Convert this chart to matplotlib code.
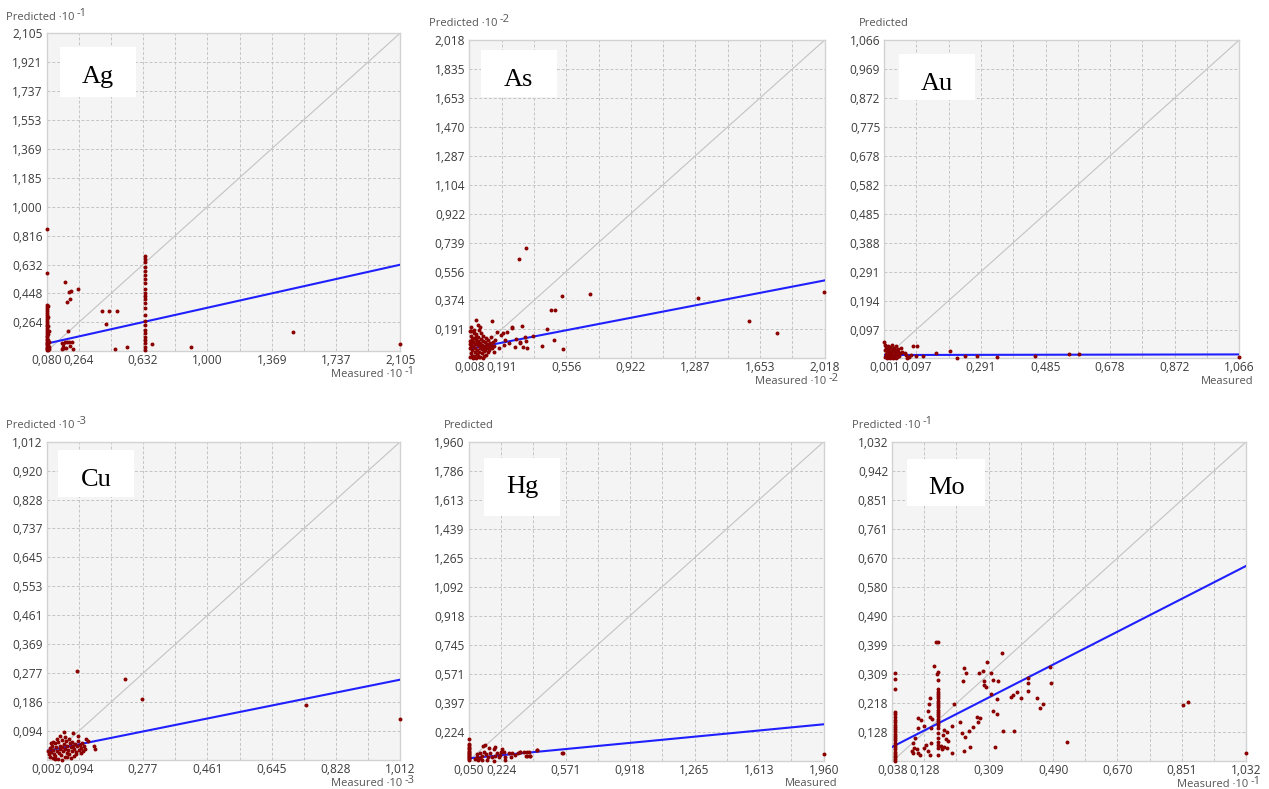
import matplotlib
matplotlib.use("Agg")
import matplotlib.pyplot as plt
from matplotlib.patches import Rectangle

W, H = 1269, 789
plt.rcParams['font.family'] = ['Open Sans', 'DejaVu Sans']

# ---------------------------------------------------------------- data
# axis tick values (first = axis minimum, last = axis maximum)
ag_ticks = [0.080, 0.264, 0.448, 0.632, 0.816, 1.000, 1.185, 1.369, 1.553, 1.737, 1.921, 2.105]
as_ticks = [0.008, 0.191, 0.374, 0.556, 0.739, 0.922, 1.104, 1.287, 1.470, 1.653, 1.835, 2.018]
au_ticks = [0.001, 0.097, 0.194, 0.291, 0.388, 0.485, 0.582, 0.678, 0.775, 0.872, 0.969, 1.066]
cu_ticks = [0.002, 0.094, 0.186, 0.277, 0.369, 0.461, 0.553, 0.645, 0.737, 0.828, 0.920, 1.012]
hg_ticks = [0.050, 0.224, 0.397, 0.571, 0.745, 0.918, 1.092, 1.265, 1.439, 1.613, 1.786, 1.960]
mo_ticks = [0.038, 0.128, 0.218, 0.309, 0.399, 0.490, 0.580, 0.670, 0.761, 0.851, 0.942, 1.032]

# scale exponents of the axis units (None = no multiplier)
ag_exp, as_exp, au_exp, cu_exp, hg_exp, mo_exp = -1, -2, None, -3, None, -1

# regression line: predicted value at the axis minimum and maximum
ag_fit = [0.129, 0.631]
as_fit = [0.067, 0.500]
au_fit = [0.012, 0.014]
cu_fit = [0.031, 0.257]
hg_fit = [0.064, 0.268]
mo_fit = [0.083, 0.646]

# (measured, predicted) samples
ag_pairs = [
    (0.082, 0.856), (0.082, 0.578), (0.082, 0.374), (0.082, 0.362), (0.082, 0.350), (0.082, 0.338),
    (0.082, 0.325), (0.082, 0.312), (0.082, 0.300), (0.082, 0.288), (0.082, 0.275), (0.082, 0.262),
    (0.082, 0.250), (0.082, 0.238), (0.082, 0.226), (0.082, 0.214), (0.082, 0.202), (0.082, 0.190),
    (0.082, 0.180), (0.082, 0.170), (0.082, 0.160), (0.082, 0.150), (0.082, 0.142), (0.082, 0.134),
    (0.082, 0.126), (0.082, 0.118), (0.082, 0.110), (0.082, 0.102), (0.082, 0.095), (0.082, 0.088),
    (0.090, 0.368), (0.090, 0.300), (0.090, 0.240), (0.090, 0.190), (0.090, 0.150), (0.090, 0.120),
    (0.090, 0.100), (0.090, 0.090), (0.096, 0.210), (0.096, 0.140), (0.096, 0.110), (0.096, 0.095),
    (0.166, 0.131), (0.175, 0.126), (0.185, 0.137), (0.195, 0.141), (0.209, 0.139), (0.223, 0.139),
    (0.172, 0.109), (0.179, 0.099), (0.191, 0.103), (0.213, 0.114), (0.232, 0.093), (0.168, 0.093),
    (0.185, 0.521), (0.257, 0.474), (0.208, 0.459), (0.219, 0.464), (0.213, 0.413), (0.198, 0.392),
    (0.204, 0.209), (0.397, 0.334), (0.439, 0.338), (0.483, 0.334), (0.418, 0.256), (0.471, 0.095),
    (0.540, 0.105), (0.685, 0.126), (0.908, 0.105), (1.492, 0.205), (2.105, 0.128),
    (0.643, 0.686), (0.643, 0.669), (0.643, 0.648), (0.643, 0.618), (0.643, 0.593), (0.643, 0.563),
    (0.643, 0.538), (0.643, 0.513), (0.643, 0.478), (0.643, 0.449), (0.643, 0.432), (0.643, 0.411),
    (0.643, 0.389), (0.643, 0.354), (0.643, 0.309), (0.643, 0.275), (0.643, 0.247), (0.643, 0.216),
    (0.643, 0.195), (0.643, 0.173), (0.643, 0.152), (0.643, 0.131), (0.643, 0.109), (0.643, 0.088),
]

as_pairs = [
    (0.327, 0.706), (0.291, 0.633), (0.531, 0.403), (0.689, 0.414), (1.300, 0.387), (2.016, 0.425),
    (1.588, 0.244), (1.748, 0.168), (0.470, 0.313), (0.491, 0.313), (0.447, 0.195), (0.489, 0.124),
    (0.540, 0.067), (0.417, 0.088), (0.370, 0.149), (0.306, 0.212), (0.249, 0.204), (0.221, 0.172),
    (0.197, 0.168), (0.330, 0.117), (0.321, 0.141), (0.270, 0.128), (0.295, 0.113), (0.334, 0.071),
    (0.310, 0.079), (0.265, 0.081), (0.296, 0.103), (0.249, 0.201), (0.136, 0.242), (0.046, 0.250),
    (0.057, 0.218), (0.033, 0.187), (0.070, 0.204), (0.165, 0.176), (0.189, 0.155), (0.212, 0.124),
    (0.203, 0.092), (0.231, 0.103), (0.174, 0.071), (0.146, 0.050), (0.155, 0.124), (0.132, 0.144),
    (0.010, 0.015), (0.015, 0.040), (0.012, 0.070), (0.018, 0.095), (0.014, 0.120), (0.020, 0.150),
    (0.022, 0.025), (0.025, 0.060), (0.028, 0.085), (0.030, 0.110), (0.032, 0.135), (0.035, 0.020),
    (0.038, 0.045), (0.040, 0.075), (0.042, 0.100), (0.045, 0.125), (0.048, 0.160), (0.050, 0.035),
    (0.052, 0.060), (0.055, 0.090), (0.058, 0.115), (0.060, 0.140), (0.062, 0.015), (0.065, 0.050),
    (0.068, 0.075), (0.070, 0.105), (0.072, 0.130), (0.075, 0.170), (0.078, 0.040), (0.080, 0.065),
    (0.082, 0.095), (0.085, 0.120), (0.088, 0.150), (0.090, 0.025), (0.092, 0.055), (0.095, 0.085),
    (0.098, 0.110), (0.100, 0.135), (0.104, 0.070), (0.108, 0.100), (0.112, 0.045), (0.115, 0.125),
    (0.118, 0.080), (0.122, 0.060), (0.125, 0.105), (0.030, 0.010), (0.045, 0.008), (0.058, 0.025),
    (0.020, 0.180), (0.036, 0.165), (0.062, 0.185), (0.070, 0.015), (0.085, 0.010), (0.016, 0.205),
    (0.105, 0.030), (0.128, 0.090), (0.135, 0.070), (0.140, 0.110), (0.148, 0.085), (0.010, 0.180),
    (0.012, 0.100), (0.026, 0.130), (0.044, 0.145), (0.054, 0.110), (0.066, 0.095), (0.076, 0.085),
    (0.086, 0.070), (0.096, 0.060), (0.110, 0.080),
]

au_pairs = [
    (0.003, 0.005), (0.005, 0.015), (0.004, 0.028), (0.006, 0.038), (0.008, 0.010), (0.010, 0.022),
    (0.012, 0.033), (0.014, 0.004), (0.015, 0.016), (0.017, 0.027), (0.019, 0.040), (0.021, 0.008),
    (0.022, 0.020), (0.024, 0.031), (0.026, 0.012), (0.028, 0.024), (0.030, 0.036), (0.032, 0.006),
    (0.033, 0.018), (0.035, 0.028), (0.037, 0.042), (0.039, 0.014), (0.041, 0.022), (0.043, 0.032),
    (0.045, 0.009), (0.047, 0.019), (0.002, 0.045), (0.009, 0.002), (0.018, 0.001), (0.027, 0.003),
    (0.036, 0.002), (0.011, 0.043), (0.025, 0.045), (0.040, 0.005),
    (0.001, 0.055), (0.050, 0.035), (0.055, 0.021), (0.063, 0.018), (0.066, 0.012), (0.081, 0.012),
    (0.087, 0.041), (0.099, 0.041), (0.096, 0.010), (0.116, 0.010), (0.155, 0.020), (0.197, 0.024),
    (0.218, 0.001), (0.243, 0.010), (0.280, 0.010), (0.340, 0.004), (0.453, 0.009), (0.555, 0.016),
    (0.585, 0.014), (1.066, 0.006), (0.070, 0.003), (0.075, 0.005),
]

cu_pairs = [
    (0.005, 0.030), (0.008, 0.020), (0.010, 0.040), (0.012, 0.012), (0.015, 0.028), (0.017, 0.048),
    (0.019, 0.008), (0.021, 0.035), (0.023, 0.022), (0.025, 0.055), (0.027, 0.015), (0.029, 0.042),
    (0.031, 0.030), (0.033, 0.060), (0.035, 0.005), (0.037, 0.025), (0.039, 0.048), (0.041, 0.036),
    (0.043, 0.018), (0.045, 0.065), (0.047, 0.042), (0.049, 0.030), (0.051, 0.052), (0.053, 0.010),
    (0.055, 0.038), (0.057, 0.062), (0.059, 0.025), (0.061, 0.047), (0.063, 0.035), (0.065, 0.070),
    (0.067, 0.020), (0.069, 0.055), (0.071, 0.042), (0.073, 0.030), (0.075, 0.060), (0.077, 0.048),
    (0.079, 0.015), (0.081, 0.038), (0.083, 0.052), (0.085, 0.028), (0.088, 0.045), (0.090, 0.062),
    (0.093, 0.035), (0.096, 0.050), (0.099, 0.040), (0.102, 0.055), (0.105, 0.030), (0.108, 0.046),
    (0.112, 0.038), (0.020, 0.060), (0.030, 0.070), (0.040, 0.078), (0.055, 0.075), (0.013, 0.055),
    (0.026, 0.005), (0.045, 0.003), (0.060, 0.012), (0.070, 0.008), (0.087, 0.020), (0.100, 0.025),
    (0.050, 0.090), (0.076, 0.087), (0.091, 0.078), (0.115, 0.068), (0.119, 0.063), (0.136, 0.046),
    (0.141, 0.037), (0.088, 0.284), (0.227, 0.260), (0.275, 0.196), (0.743, 0.176), (1.012, 0.131),
]

hg_pairs = [
    (0.052, 0.180), (0.052, 0.150), (0.052, 0.142), (0.052, 0.134), (0.052, 0.126), (0.052, 0.118),
    (0.052, 0.110), (0.052, 0.102), (0.052, 0.095), (0.052, 0.088), (0.052, 0.082), (0.052, 0.076),
    (0.052, 0.070), (0.052, 0.064), (0.052, 0.058), (0.052, 0.053),
    (0.125, 0.140), (0.139, 0.144), (0.158, 0.124), (0.184, 0.120), (0.193, 0.134), (0.229, 0.118),
    (0.238, 0.100), (0.247, 0.074), (0.283, 0.094), (0.328, 0.100), (0.346, 0.104), (0.373, 0.104),
    (0.364, 0.078), (0.381, 0.078), (0.417, 0.114), (0.552, 0.094),
    (0.112, 0.094), (0.122, 0.078), (0.131, 0.104), (0.143, 0.088), (0.154, 0.074), (0.166, 0.094),
    (0.175, 0.070), (0.190, 0.078), (0.202, 0.094), (0.211, 0.070), (0.220, 0.084), (0.225, 0.104),
    (0.247, 0.054), (0.265, 0.094), (0.279, 0.074), (0.301, 0.084), (0.315, 0.094), (0.122, 0.054),
    (0.148, 0.054), (0.184, 0.050), (0.085, 0.060), (0.095, 0.075), (0.100, 0.055), (0.110, 0.065),
    (0.092, 0.090), (1.960, 0.088), (0.559, 0.098), (0.419, 0.114), (0.362, 0.104), (0.380, 0.080),
    (0.358, 0.080), (0.326, 0.104),
]

mo_pairs = [
    (0.045, 0.314), (0.045, 0.293), (0.045, 0.263), (0.045, 0.192), (0.045, 0.184), (0.045, 0.176),
    (0.045, 0.168), (0.045, 0.160), (0.045, 0.152), (0.045, 0.145), (0.045, 0.138), (0.045, 0.131),
    (0.045, 0.124), (0.045, 0.117), (0.045, 0.110), (0.045, 0.103), (0.045, 0.096), (0.045, 0.089),
    (0.045, 0.082), (0.045, 0.075), (0.045, 0.068), (0.045, 0.062), (0.045, 0.056), (0.045, 0.050),
    (0.045, 0.044), (0.045, 0.040),
    (0.161, 0.410), (0.167, 0.410), (0.165, 0.317), (0.163, 0.310), (0.165, 0.291), (0.165, 0.262),
    (0.165, 0.255), (0.165, 0.248), (0.165, 0.241), (0.165, 0.234), (0.165, 0.227), (0.165, 0.220),
    (0.165, 0.213), (0.165, 0.206), (0.165, 0.199), (0.165, 0.192), (0.165, 0.185), (0.165, 0.178),
    (0.165, 0.171), (0.165, 0.164), (0.165, 0.157), (0.165, 0.150), (0.165, 0.141), (0.165, 0.125),
    (0.165, 0.110), (0.165, 0.099), (0.165, 0.089), (0.165, 0.078), (0.165, 0.058),
    (0.156, 0.335), (0.111, 0.174), (0.119, 0.166), (0.144, 0.234), (0.142, 0.215), (0.137, 0.195),
    (0.144, 0.177), (0.149, 0.170), (0.128, 0.148), (0.111, 0.142), (0.147, 0.141), (0.102, 0.110),
    (0.095, 0.094), (0.100, 0.078), (0.107, 0.075), (0.111, 0.065), (0.116, 0.058), (0.128, 0.078),
    (0.132, 0.089), (0.139, 0.071), (0.147, 0.096), (0.092, 0.070), (0.097, 0.065), (0.144, 0.058),
    (0.184, 0.135), (0.191, 0.130), (0.181, 0.120), (0.188, 0.106), (0.194, 0.102), (0.175, 0.086),
    (0.184, 0.082), (0.191, 0.078), (0.177, 0.075), (0.212, 0.216), (0.228, 0.161), (0.205, 0.148),
    (0.206, 0.065), (0.235, 0.127), (0.242, 0.113), (0.240, 0.070), (0.256, 0.083), (0.253, 0.133),
    (0.265, 0.144), (0.278, 0.161), (0.275, 0.177), (0.284, 0.174), (0.239, 0.327), (0.244, 0.312),
    (0.236, 0.288), (0.281, 0.312), (0.294, 0.320), (0.305, 0.346), (0.345, 0.374), (0.296, 0.288),
    (0.295, 0.275), (0.300, 0.270), (0.315, 0.314), (0.322, 0.291), (0.334, 0.289), (0.315, 0.247),
    (0.331, 0.231), (0.322, 0.195), (0.331, 0.184), (0.350, 0.133), (0.381, 0.133), (0.326, 0.082),
    (0.371, 0.239), (0.376, 0.245), (0.387, 0.254), (0.399, 0.236), (0.418, 0.257), (0.418, 0.296),
    (0.420, 0.282), (0.443, 0.236), (0.453, 0.205), (0.462, 0.215), (0.484, 0.282), (0.481, 0.332),
    (0.528, 0.097), (0.855, 0.213), (0.869, 0.221), (1.032, 0.063),
]

# ---------------------------------------------------------------- layout (pixels)
# axes rectangle: left, top, width, height ; name box: left, top, width, height (relative to axes)
panels = [
    ("Ag", ag_pairs, ag_ticks, ag_fit, ag_exp, (46.7, 33.0, 353.6, 318.3), (13.3, 14.0, 76.0, 50.0)),
    ("As", as_pairs, as_ticks, as_fit, as_exp, (469.3, 40.0, 355.4, 318.3), (11.7, 10.0, 75.7, 47.3)),
    ("Au", au_pairs, au_ticks, au_fit, au_exp, (884.3, 40.0, 355.0, 318.3), (15.0, 14.0, 75.3, 46.0)),
    ("Cu", cu_pairs, cu_ticks, cu_fit, cu_exp, (46.7, 441.7, 353.6, 318.3), (11.3, 8.3, 76.0, 46.7)),
    ("Hg", hg_pairs, hg_ticks, hg_fit, hg_exp, (468.7, 441.7, 355.0, 319.0), (15.3, 16.3, 76.0, 57.7)),
    ("Mo", mo_pairs, mo_ticks, mo_fit, mo_exp, (892.3, 441.7, 354.0, 319.6), (15.0, 17.3, 77.7, 47.0)),
]

TXT = '#3c3c3c'
LBL = '#555555'
PT = 72.0 / 100.0  # points per pixel at dpi 100


def fmt(v):
    return f"{v:.3f}".replace('.', ',')


fig = plt.figure(figsize=(W / 100, H / 100), dpi=100)
fig.patch.set_facecolor('white')

for name, pairs, ticks, fit, exp, (L, T, Wd, Ht), (bl, bt, bw, bh) in panels:
    ax = fig.add_axes([L / W, 1 - (T + Ht) / H, Wd / W, Ht / H])
    lo, hi = ticks[0], ticks[-1]
    ax.set_xlim(lo, hi)
    ax.set_ylim(lo, hi)
    ax.set_facecolor('#f4f4f4')
    for s in ax.spines.values():
        s.set_color('#d2d2d2')
        s.set_linewidth(1.0)

    grid = ticks[1:]
    for v in grid:
        ax.axvline(v, color='#c4c4c4', lw=0.7, ls=(0, (3, 2)), zorder=1)
        ax.axhline(v, color='#c4c4c4', lw=0.7, ls=(0, (3, 2)), zorder=1)

    xt = [lo] + grid[0::2]
    ax.set_xticks(xt)
    ax.set_xticklabels([fmt(v) for v in xt])
    ax.set_yticks(grid)
    ax.set_yticklabels([fmt(v) for v in grid])
    ax.tick_params(axis='both', length=0, labelsize=8.6, labelcolor=TXT)
    ax.tick_params(axis='y', pad=3.0)
    ax.tick_params(axis='x', pad=2.2)

    # identity line and regression line
    ax.plot([lo, hi], [lo, hi], color='#c3c3c3', lw=0.8, zorder=2)
    ax.plot([lo, hi], fit, color='#2020ff', lw=1.5, zorder=3)

    mx = [p[0] for p in pairs]
    py = [p[1] for p in pairs]
    ax.scatter(mx, py, s=8, color='#8b0000', linewidths=0, zorder=4, clip_on=False)

    # axis captions, with the unit multiplier and a raised exponent
    if exp is None:
        ax.annotate('Predicted', xy=(0, 1), xycoords='axes fraction',
                    xytext=(0, 16 * PT), textcoords='offset points',
                    ha='center', va='center', fontsize=8, color=LBL)
        ax.annotate('Measured', xy=(1, 0), xycoords='axes fraction',
                    xytext=(14 * PT, -23.0 * PT), textcoords='offset points',
                    ha='right', va='center', fontsize=8, color=LBL)
    else:
        base = ax.annotate('Predicted \u00b710', xy=(0, 1), xycoords='axes fraction',
                           xytext=(-6 * PT, 16 * PT), textcoords='offset points',
                           ha='center', va='center', fontsize=8, color=LBL)
        ax.annotate(f'-{abs(exp)}', xy=(1, 0.5), xycoords=base,
                    xytext=(2 * PT, 4 * PT), textcoords='offset points',
                    ha='left', va='center', fontsize=8, color=LBL)
        sup = ax.annotate(f'-{abs(exp)}', xy=(1, 0), xycoords='axes fraction',
                          xytext=(14 * PT, -20.5 * PT), textcoords='offset points',
                          ha='right', va='center', fontsize=8, color=LBL)
        ax.annotate('Measured \u00b710', xy=(0, 0.5), xycoords=sup,
                    xytext=(-2 * PT, -3 * PT), textcoords='offset points',
                    ha='right', va='center', fontsize=8, color=LBL)

    # element name in a white box
    x0 = (L + bl) / W
    y0 = 1 - (T + bt + bh) / H
    fig.add_artist(Rectangle((x0, y0), bw / W, bh / H, transform=fig.transFigure,
                             facecolor='white', edgecolor='none', zorder=5))
    fig.text((L + bl + bw / 2) / W, 1 - (T + bt + 35.5) / H, name,
             family='Liberation Serif', fontsize=19, color='black',
             ha='center', va='baseline', zorder=6)

fig.savefig('out.png', dpi=100, facecolor='white')
